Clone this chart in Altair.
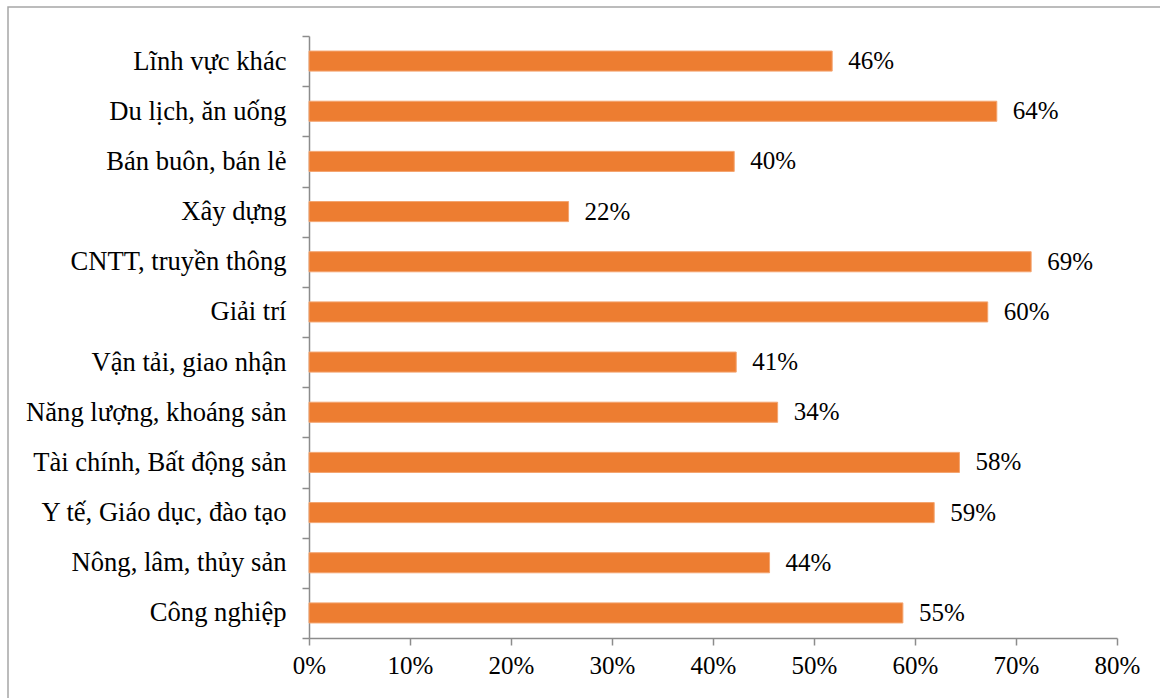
import altair as alt
import pandas as pd

categories = [
    "Lĩnh vực khác", "Du lịch, ăn uống", "Bán buôn, bán lẻ", "Xây dựng",
    "CNTT, truyền thông", "Giải trí", "Vận tải, giao nhận",
    "Năng lượng, khoáng sản", "Tài chính, Bất động sản",
    "Y tế, Giáo dục, đào tạo", "Nông, lâm, thủy sản", "Công nghiệp",
]
bar_values = [0.518, 0.681, 0.421, 0.257, 0.715, 0.672, 0.423, 0.464, 0.644, 0.619, 0.456, 0.588]
label_texts = ["46%", "64%", "40%", "22%", "69%", "60%", "41%", "34%", "58%", "59%", "44%", "55%"]

df = pd.DataFrame({"cat": categories, "val": bar_values, "lab": label_texts})

FONT = "Liberation Serif"
AXIS_GREY = "#8c8c8c"

y_enc = alt.Y("cat:N", sort=categories, title=None,
              scale=alt.Scale(paddingInner=0, paddingOuter=0),
              axis=alt.Axis(tickBand="extent", tickSize=7, labelPadding=16,
                            labelFontSize=26.6, labelFont=FONT, labelColor="#000000",
                            domainColor=AXIS_GREY, tickColor=AXIS_GREY, domainWidth=1.5,
                            tickWidth=1.5, labelLimit=400))
x_enc = alt.X("val:Q", title=None,
              scale=alt.Scale(domain=[0, 0.8], nice=False),
              axis=alt.Axis(format=".0%", values=[0, 0.1, 0.2, 0.3, 0.4, 0.5, 0.6, 0.7, 0.8],
                            tickSize=7, labelPadding=8, labelFontSize=25, labelFont=FONT,
                            labelColor="#000000", domainColor=AXIS_GREY, tickColor=AXIS_GREY,
                            domainWidth=1.5, tickWidth=1.5, grid=False, labelFlush=False))

bars = alt.Chart(df).mark_bar(color="#ED7D31", stroke="#F4A46F", strokeWidth=1,
                              height={"band": 0.4}).encode(y=y_enc, x=x_enc)
texts = alt.Chart(df).mark_text(align="left", baseline="middle", dx=16, font=FONT,
                                fontSize=25, color="#000000").encode(
    y=alt.Y("cat:N", sort=categories), x="val:Q", text="lab:N")

border = alt.Chart(pd.DataFrame({"a": [0]})).mark_rect(
    fillOpacity=0, stroke="#a6a6a6", strokeWidth=1.5).encode(
    x=alt.value(-301), x2=alt.value(900), y=alt.value(-29), y2=alt.value(700))

chart = alt.layer(border, bars, texts).properties(
    width=808, height=602,
    background="white",
    autosize=alt.AutoSizeParams(type="none"),
    padding={"left": 309, "top": 36, "right": 43, "bottom": 60},
).configure_view(strokeWidth=0)

chart.save("out.html", embed_options={"renderer": "svg", "actions": False})
